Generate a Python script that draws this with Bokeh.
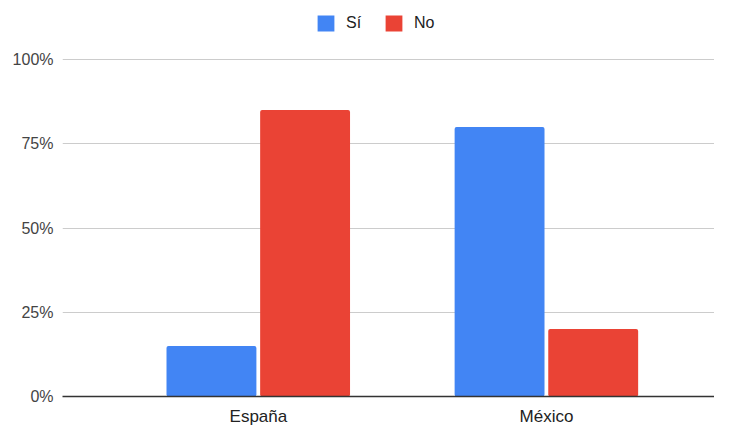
from bokeh.plotting import figure
from bokeh.models import ColumnDataSource, Range1d, FixedTicker, NumeralTickFormatter, Legend, LegendItem
from bokeh.transform import dodge
from bokeh.embed import file_html
from bokeh.resources import INLINE

categories = ["España", "México"]
si_values = [0.15, 0.80]
no_values = [0.85, 0.20]
series_names = ["Sí", "No"]
series_colors = ["#4285F4", "#EA4335"]
y_ticks = [0, 0.25, 0.5, 0.75, 1.0]

FONT = "Liberation Sans"

W, H = 714, 428
FRAME_LEFT, FRAME_BOTTOM_BORDER = 62, 32
TOP_100 = 59  # pixel row of the 100% line
frame_h = H - FRAME_BOTTOM_BORDER
y_end = 1 + TOP_100 / (frame_h - TOP_100)

xpos = [i + 0.5 for i in range(len(categories))]
src = ColumnDataSource(dict(x=xpos, si=si_values, no=no_values))

p = figure(width=W, height=H, output_backend="svg", toolbar_location=None,
           x_range=Range1d(-0.18, 2.083), y_range=Range1d(0, y_end),
           min_border_left=FRAME_LEFT, min_border_right=0, min_border_top=0,
           min_border_bottom=FRAME_BOTTOM_BORDER)
p.outline_line_color = None
p.background_fill_color = "white"
p.border_fill_color = "white"

r1 = p.vbar(x=dodge("x", -0.163, range=p.x_range), top="si", width=0.312, source=src,
            fill_color=series_colors[0], line_color=None, border_radius=2)
r2 = p.vbar(x=dodge("x", 0.162, range=p.x_range), top="no", width=0.312, source=src,
            fill_color=series_colors[1], line_color=None, border_radius=2)

# y axis
p.yaxis.ticker = FixedTicker(ticks=y_ticks)
p.yaxis.formatter = NumeralTickFormatter(format="0%")
p.yaxis.axis_line_color = None
p.yaxis.major_tick_line_color = None
p.yaxis.minor_tick_line_color = None
p.yaxis.major_label_standoff = 3
p.yaxis.major_label_text_font = FONT
p.yaxis.major_label_text_font_size = "16px"
p.yaxis.major_label_text_color = "#444444"

# x axis
p.xaxis.ticker = FixedTicker(ticks=xpos)
p.xaxis.major_label_overrides = {x: c for x, c in zip(xpos, categories)}
p.xaxis.axis_line_color = "#333333"
p.xaxis.axis_line_width = 1.5
p.xaxis.major_tick_line_color = None
p.xaxis.minor_tick_line_color = None
p.xaxis.major_label_standoff = 4
p.xaxis.major_label_text_font = FONT
p.xaxis.major_label_text_font_size = "17px"
p.xaxis.major_label_text_color = "#222222"

p.xgrid.grid_line_color = None
p.ygrid.ticker = FixedTicker(ticks=y_ticks)
p.ygrid.grid_line_color = "#cccccc"
p.ygrid.grid_line_width = 1

legend = Legend(items=[LegendItem(label=series_names[0], renderers=[r1]),
                       LegendItem(label=series_names[1], renderers=[r2])],
                orientation="horizontal", location=(253, frame_h - 33),
                glyph_width=21, glyph_height=20, label_standoff=10, spacing=17,
                label_height=20, padding=0, margin=0, border_line_color=None,
                background_fill_alpha=0,
                label_text_font=FONT, label_text_font_size="16px", label_text_color="#222222")
p.add_layout(legend, "center")

open("out.html", "w").write(file_html(p, INLINE))
